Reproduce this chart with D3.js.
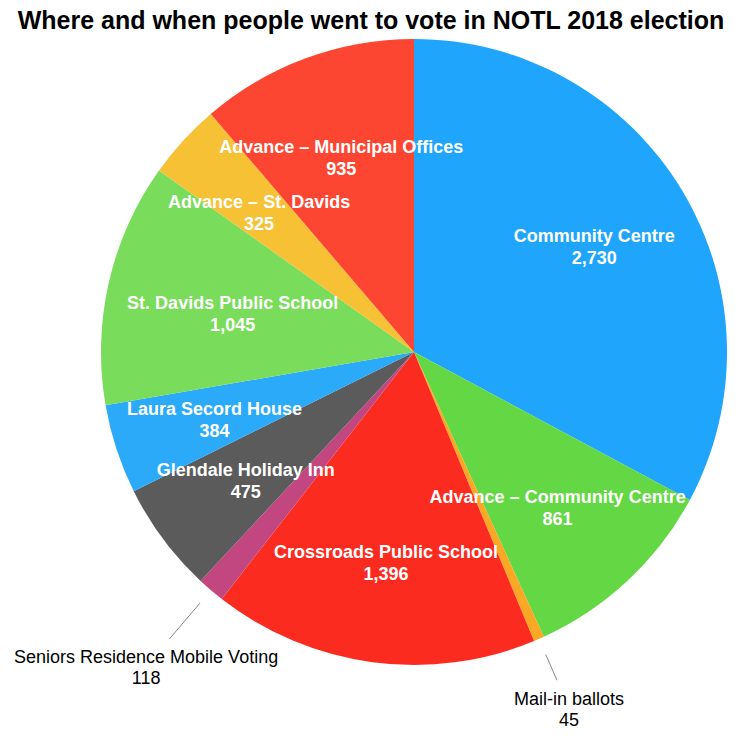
<!DOCTYPE html>
<html lang="en">
<head>
    <meta charset="UTF-8">
    <title>NOTL 2018 election</title>
    <script src="https://cdn.jsdelivr.net/npm/d3@7"></script>
    <style>
        body { margin: 0; background: #fff; }
        svg { display: block; font-family: "Liberation Sans", Arial, sans-serif; }
    </style>
</head>
<body>
<script>
    const places = ["Community Centre", "Advance \u2013 Community Centre", "Mail-in ballots",
        "Crossroads Public School", "Seniors Residence Mobile Voting", "Glendale Holiday Inn",
        "Laura Secord House", "St. Davids Public School", "Advance \u2013 St. Davids",
        "Advance \u2013 Municipal Offices"];
    const votes = [2730, 861, 45, 1396, 118, 475, 384, 1045, 325, 935];
    const colours = ["#1fa5fb", "#64d744", "#f8a825", "#fc2b1f", "#c2467f", "#5b5b5b",
        "#2aaaf9", "#79dc5a", "#f7c136", "#fc4632"];
    // small slices get their label outside with a leader line
    const outside = ["Mail-in ballots", "Seniors Residence Mobile Voting"];

    const width = 741, height = 736;
    const cx = 414, cy = 352, radius = 313;

    const data = places.map((p, i) => ({ place: p, votes: votes[i], colour: colours[i] }));

    const svg = d3.select("body").append("svg")
        .attr("width", width)
        .attr("height", height);

    svg.append("text")
        .attr("x", 371).attr("y", 29)
        .attr("text-anchor", "middle")
        .style("font-size", "25px").style("font-weight", "bold")
        .text("Where and when people went to vote in NOTL 2018 election");

    const pie = d3.pie().sort(null).value(d => d.votes);
    const arcs = pie(data);

    const arc = d3.arc().innerRadius(0).outerRadius(radius);
    // label distance from centre; the long St. Davids label sits further in so it fits
    const labelR = d => d.data.place === "St. Davids Public School" ? 186 : 210;
    const labelArc = d3.arc().innerRadius(labelR).outerRadius(labelR);

    const g = svg.append("g").attr("transform", `translate(${cx},${cy})`);

    g.selectAll("path")
        .data(arcs)
        .enter()
        .append("path")
        .attr("d", arc)
        .attr("fill", d => d.data.colour);

    const fmt = d3.format(",");

    // inside labels
    const inner = g.selectAll(".inner")
        .data(arcs.filter(d => !outside.includes(d.data.place)))
        .enter()
        .append("text")
        .attr("class", "inner")
        .attr("text-anchor", "middle")
        .attr("fill", "#fff")
        .style("font-size", "18px").style("font-weight", "bold")
        .attr("transform", d => `translate(${labelArc.centroid(d)})`);
    inner.append("tspan").attr("x", 0).attr("y", -2).text(d => d.data.place);
    inner.append("tspan").attr("x", 0).attr("y", 20).text(d => fmt(d.data.votes));

    // outside labels with leader lines
    const outArcs = arcs.filter(d => outside.includes(d.data.place));
    const pt = (d, r) => {
        const a = (d.startAngle + d.endAngle) / 2;
        return [r * Math.sin(a), -r * Math.cos(a)];
    };
    const lineEnd = { "Mail-in ballots": [330, 358], "Seniors Residence Mobile Voting": [330, 377] };
    const textPos = { "Mail-in ballots": 388, "Seniors Residence Mobile Voting": 413 };

    g.selectAll(".leader")
        .data(outArcs)
        .enter()
        .append("line")
        .attr("class", "leader")
        .attr("x1", d => pt(d, lineEnd[d.data.place][0])[0])
        .attr("y1", d => pt(d, lineEnd[d.data.place][0])[1])
        .attr("x2", d => pt(d, lineEnd[d.data.place][1])[0])
        .attr("y2", d => pt(d, lineEnd[d.data.place][1])[1])
        .attr("stroke", "#888")
        .attr("stroke-width", 1);

    const outer = g.selectAll(".outer")
        .data(outArcs)
        .enter()
        .append("text")
        .attr("class", "outer")
        .attr("text-anchor", "middle")
        .attr("fill", "#000")
        .style("font-size", "18px")
        .attr("transform", d => `translate(${pt(d, textPos[d.data.place])})`);
    outer.append("tspan").attr("x", 0).attr("y", -3).text(d => d.data.place);
    outer.append("tspan").attr("x", 0).attr("y", 18).text(d => fmt(d.data.votes));
</script>
</body>
</html>
